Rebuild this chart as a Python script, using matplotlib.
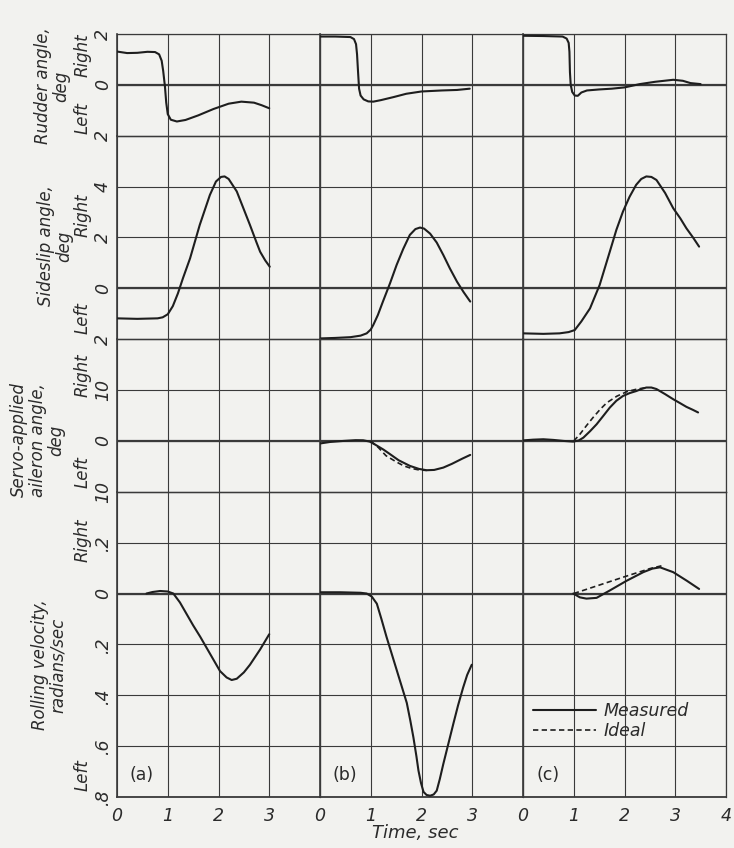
"""
Rudder, sideslip, aileron and rolling-velocity time histories, three runs (a)-(c),
drawn on one continuous grid like the scanned report figure.
"""

import numpy as np
import matplotlib
matplotlib.use("Agg")
import matplotlib.pyplot as plt

PAPER, INK, GRID = "#f2f2ef", "#1e1e1e", "#3a3a3a"
plt.rcParams.update({"font.family": "DejaVu Sans", "font.size": 12.5})

# ---- data (time in s) -------------------------------------------------------
# rudder angle, deg (right +)
rud_a_t = [0, 0.2, 0.4, 0.6, 0.75, 0.83, 0.88, 0.91, 0.945, 0.97, 1.0, 1.06, 1.18,
           1.35, 1.6, 1.9, 2.2, 2.45, 2.7, 2.85, 3.0]
rud_a_v = [1.31, 1.25, 1.26, 1.3, 1.29, 1.2, 0.95, 0.55, -0.07, -0.7, -1.15, -1.37, -1.44,
           -1.38, -1.2, -0.95, -0.74, -0.66, -0.70, -0.8, -0.92]
rud_b_t = [0, 0.3, 0.6, 0.67, 0.71, 0.73, 0.75, 0.77, 0.8, 0.86, 0.95, 1.05, 1.2, 1.45,
           1.7, 2.0, 2.4, 2.7, 2.95]
rud_b_v = [1.9, 1.9, 1.88, 1.8, 1.6, 1.2, 0.5, -0.15, -0.42, -0.57, -0.65, -0.66, -0.6,
           -0.48, -0.35, -0.26, -0.22, -0.2, -0.15]
rud_c_t = [0, 0.4, 0.78, 0.86, 0.9, 0.915, 0.925, 0.94, 0.97, 1.02, 1.08, 1.15, 1.26, 1.5,
           1.75, 2.0, 2.3, 2.6, 2.96, 3.15, 3.3, 3.5]
rud_c_v = [1.93, 1.92, 1.9, 1.82, 1.65, 1.3, 0.5, 0.0, -0.28, -0.42, -0.43, -0.3, -0.22,
           -0.18, -0.15, -0.1, 0.03, 0.12, 0.2, 0.16, 0.07, 0.03]

# sideslip angle, deg
beta_a_t = [0, 0.4, 0.8, 0.9, 1.0, 1.1, 1.2, 1.3, 1.44, 1.63, 1.83, 1.95, 2.05, 2.12, 2.2,
            2.36, 2.5, 2.62, 2.75, 2.82, 2.92, 3.01]
beta_a_v = [-1.18, -1.2, -1.18, -1.14, -1.02, -0.7, -0.2, 0.4, 1.18, 2.49, 3.67, 4.2, 4.38,
            4.4, 4.3, 3.81, 3.1, 2.49, 1.8, 1.44, 1.1, 0.85]
beta_b_t = [0, 0.3, 0.6, 0.8, 0.92, 1.0, 1.05, 1.14, 1.24, 1.38, 1.51, 1.64, 1.77, 1.88,
            1.97, 2.05, 2.17, 2.3, 2.43, 2.56, 2.7, 2.83, 2.96]
beta_b_v = [-1.97, -1.95, -1.92, -1.86, -1.77, -1.62, -1.44, -1.05, -0.52, 0.2, 0.92, 1.55,
            2.1, 2.33, 2.39, 2.35, 2.15, 1.8, 1.31, 0.78, 0.26, -0.15, -0.52]
beta_c_t = [0, 0.4, 0.72, 0.9, 1.02, 1.15, 1.32, 1.51, 1.71, 1.84, 1.97, 2.1, 2.23, 2.33,
            2.43, 2.53, 2.63, 2.8, 2.96, 3.1, 3.22, 3.35, 3.47]
beta_c_v = [-1.77, -1.79, -1.77, -1.72, -1.64, -1.3, -0.79, 0.13, 1.44, 2.3, 3.02, 3.6,
            4.07, 4.3, 4.4, 4.38, 4.26, 3.75, 3.15, 2.75, 2.36, 2.0, 1.64]

# servo-applied aileron angle, deg
ail_b_t = [0, 0.2, 0.46, 0.7, 0.85, 0.98, 1.1, 1.25, 1.38, 1.55, 1.77, 1.95, 2.1, 2.25,
           2.43, 2.6, 2.8, 2.96]
ail_b_v = [-0.5, -0.2, 0, 0.15, 0.13, -0.13, -0.8, -1.7, -2.6, -3.8, -4.9, -5.5, -5.76,
           -5.7, -5.24, -4.5, -3.5, -2.75]
ail_b_ideal_t = [1.0, 1.15, 1.3, 1.5, 1.65, 1.8, 1.95, 2.1]
ail_b_ideal_v = [0, -1.3, -2.9, -4.1, -4.9, -5.4, -5.7, -5.8]
ail_c_t = [0, 0.2, 0.4, 0.6, 0.8, 0.99, 1.1, 1.19, 1.32, 1.45, 1.58, 1.71, 1.84, 1.97,
           2.1, 2.23, 2.33, 2.43, 2.53, 2.63, 2.8, 2.96, 3.1, 3.22, 3.35, 3.45]
ail_c_v = [0.1, 0.25, 0.33, 0.2, 0.0, -0.13, 0.1, 0.65, 1.9, 3.27, 4.9, 6.55, 7.9, 8.84,
           9.4, 9.8, 10.2, 10.5, 10.5, 10.2, 9.2, 8.2, 7.4, 6.7, 6.1, 5.6]
ail_c_ideal_t = [1.0, 1.12, 1.25, 1.38, 1.52, 1.65, 1.85, 2.05, 2.25, 2.45]
ail_c_ideal_v = [0, 1.3, 3.0, 4.6, 6.2, 7.5, 8.8, 9.7, 10.2, 10.5]

# rolling velocity, radians/sec
roll_a_t = [0.58, 0.7, 0.85, 1.0, 1.11, 1.24, 1.37, 1.5, 1.64, 1.77, 1.9, 2.03, 2.16,
            2.26, 2.36, 2.5, 2.62, 2.72, 2.82, 2.91, 3.0]
roll_a_v = [0.0, 0.006, 0.01, 0.008, 0.0, -0.035, -0.08, -0.125, -0.17, -0.215, -0.26,
            -0.305, -0.33, -0.34, -0.335, -0.31, -0.28, -0.25, -0.22, -0.19, -0.16]
roll_b_t = [0, 0.4, 0.8, 0.92, 1.02, 1.12, 1.21, 1.31, 1.41, 1.51, 1.61, 1.71, 1.78, 1.84,
            1.9, 1.94, 1.99, 2.04, 2.1, 2.17, 2.24, 2.3, 2.36, 2.43, 2.53, 2.63, 2.72,
            2.82, 2.9, 2.99]
roll_b_v = [0.005, 0.005, 0.003, 0.0, -0.012, -0.04, -0.1, -0.17, -0.235, -0.3, -0.365,
            -0.43, -0.5, -0.565, -0.64, -0.696, -0.745, -0.78, -0.792, -0.795, -0.79,
            -0.775, -0.73, -0.67, -0.59, -0.51, -0.44, -0.37, -0.32, -0.28]
roll_c_t = [0.99, 1.12, 1.25, 1.45, 1.71, 2.04, 2.37, 2.55, 2.7, 2.96, 3.23, 3.47]
roll_c_v = [0, -0.015, -0.02, -0.017, 0.012, 0.05, 0.084, 0.098, 0.103, 0.084, 0.05, 0.018]
roll_c_ideal_t = [1.0, 1.5, 2.0, 2.5, 2.75]
roll_c_ideal_v = [0, 0.033, 0.066, 0.098, 0.11]

# tick labels, top -> bottom of each row
rud_ticks = ["2", "0", "2"]
beta_ticks = ["", "4", "2", "0", "2"]
ail_ticks = ["", "10", "0", "10"]
roll_ticks = ["", ".2", "0", ".2", ".4", ".6", ".8"]
time_ticks = ["0", "1", "2", "3", ""]
time_ticks_last = ["0", "1", "2", "3", "4"]
panel_names = ["(a)", "(b)", "(c)"]

ROWS = [
    dict(lim=(-2, 2), step=2, ticks=rud_ticks,
         series=[(rud_a_t, rud_a_v, None), (rud_b_t, rud_b_v, None), (rud_c_t, rud_c_v, None)]),
    dict(lim=(-2, 6), step=2, ticks=beta_ticks,
         series=[(beta_a_t, beta_a_v, None), (beta_b_t, beta_b_v, None), (beta_c_t, beta_c_v, None)]),
    dict(lim=(-10, 20), step=10, ticks=ail_ticks,
         series=[None, (ail_b_t, ail_b_v, (ail_b_ideal_t, ail_b_ideal_v)),
                 (ail_c_t, ail_c_v, (ail_c_ideal_t, ail_c_ideal_v))]),
    dict(lim=(-0.8, 0.4), step=0.2, ticks=roll_ticks,
         series=[(roll_a_t, roll_a_v, None), (roll_b_t, roll_b_v, None),
                 (roll_c_t, roll_c_v, (roll_c_ideal_t, roll_c_ideal_v))]),
]

# ---- layout in pixels -------------------------------------------------------
W, H = 734, 848
X0, CW = 117, 50.75          # left edge, px per second
Y0, Y1 = 34, 797
CH = (Y1 - Y0) / 15          # px per grid cell


def fx(px):
    return px / W


def fy(py):
    return 1 - py / H


fig = plt.figure(figsize=(W / 100, H / 100), dpi=100, facecolor=PAPER)

top = Y0
roll_c_ax = None
for r, row in enumerate(ROWS):
    lo, hi = row["lim"]
    ncell = int(round((hi - lo) / row["step"]))
    last = r == len(ROWS) - 1
    for p in range(3):
        rect = [fx(X0 + p * 4 * CW), fy(top + ncell * CH), 4 * CW / W, ncell * CH / H]
        ax = fig.add_axes(rect)
        ax.set_facecolor("none")
        ax.set_xlim(0, 4)
        ax.set_ylim(lo, hi)
        ax.set_xticks(range(5))
        ax.set_yticks(np.linspace(hi, lo, ncell + 1))
        ax.grid(True, color=GRID, lw=0.8)
        ax.axhline(0, color=GRID, lw=1.6, zorder=1)
        for s in ax.spines.values():
            s.set_color(GRID)
            s.set_linewidth(0.9)
        ax.spines["left"].set_linewidth(1.2)
        if last:
            ax.spines["bottom"].set_linewidth(1.3)
        ax.tick_params(length=0, colors="#2b2b2b")
        if p == 0:
            ax.set_yticklabels(row["ticks"], rotation=90, va="center", ha="right",
                               fontstyle="italic", fontsize=12.5)
            ax.tick_params(axis="y", pad=3.5)
        else:
            ax.set_yticklabels([])
        if last:
            ax.set_xticklabels(time_ticks_last if p == 2 else time_ticks,
                               fontstyle="italic", fontsize=12.5)
            ax.tick_params(axis="x", pad=7)
        else:
            ax.set_xticklabels([])

        s = row["series"][p]
        if s is not None:
            t, v, ideal = s
            ax.plot(t, v, color=INK, lw=1.5, solid_capstyle="round", zorder=3,
                    label="Measured")
            if ideal is not None:
                ax.plot(ideal[0], ideal[1], color=INK, lw=1.2, ls=(0, (3.2, 2.0)),
                        zorder=3, label="Ideal")
        if last:
            ax.text(25 / (4 * CW), (Y1 - 775) / (ncell * CH), panel_names[p],
                    transform=ax.transAxes, ha="center", va="center",
                    fontsize=12.5, color="#2b2b2b")
            if p == 2:
                roll_c_ax = ax
    top += ncell * CH

leg = roll_c_ax.legend(loc="center left",
                       bbox_to_anchor=(10 / (4 * CW), (Y1 - 721) / (6 * CH)),
                       frameon=False, borderpad=0, borderaxespad=0, handlelength=3.6,
                       handletextpad=0.45, labelspacing=0.1, fontsize=12.5)
for txt in leg.get_texts():
    txt.set_fontstyle("italic")
    txt.set_color("#2b2b2b")

# ---- axis titles ------------------------------------------------------------
ykw = dict(rotation=90, ha="center", va="center", fontstyle="italic", fontsize=12,
           color="#2b2b2b", linespacing=1.05, multialignment="center")
fig.text(fx(52), fy(86), "Rudder angle,\ndeg", **ykw)
fig.text(fx(55), fy(246), "Sideslip angle,\ndeg", **ykw)
fig.text(fx(38), fy(440), "Servo-applied\naileron angle,\ndeg", **ykw)
fig.text(fx(49), fy(665), "Rolling velocity,\nradians/sec", **ykw)

side = [("Right", 55), ("Left", 118), ("Right", 215), ("Left", 318),
        ("Right", 375), ("Left", 472), ("Right", 540), ("Left", 775)]
for word, py in side:
    fig.text(fx(83), fy(py), word, **ykw)

fig.text(fx(415), fy(833), "Time, sec", ha="center", va="center", fontstyle="italic",
         fontsize=13, color="#2b2b2b")

fig.savefig("out.png", dpi=100, facecolor=PAPER)
